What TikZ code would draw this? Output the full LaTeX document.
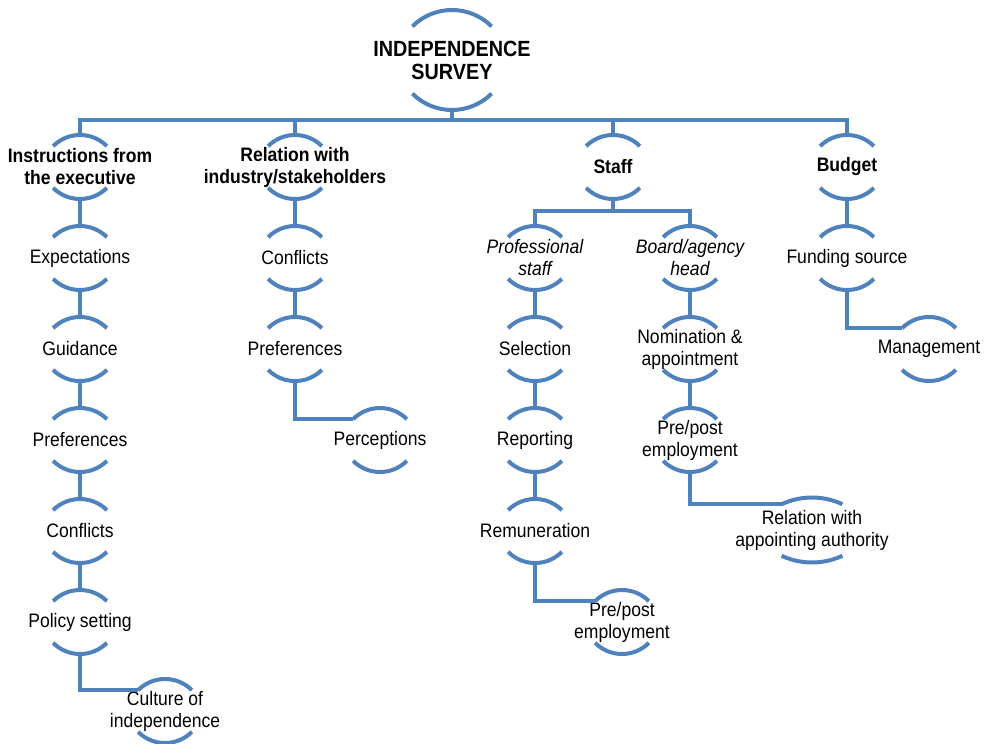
\documentclass[tikz,border=0pt]{standalone}
\usepackage{fontspec}
\setmainfont[FakeStretch=0.9]{Liberation Sans}
\usetikzlibrary{positioning}
\definecolor{arcblue}{RGB}{79,129,189}
\begin{document}
\begin{tikzpicture}[x=1pt, y=1pt, node distance=91pt, on grid,
  main/.style={align=center, inner sep=0pt, outer sep=0pt, minimum width=54pt, minimum height=64pt, font=\fontsize{19.5}{22}\selectfont},
  head/.style={main, font=\fontsize{19.5}{22}\selectfont\bfseries},
  sub/.style={main, font=\fontsize{19.5}{22}\selectfont\itshape},
  link/.style={draw=arcblue, line width=4pt}]
\useasboundingbox (0,0) rectangle (989,-744);
\node[main, minimum height=100pt, font=\fontsize{22}{23}\selectfont\bfseries] (root) at (452,-60) {INDEPENDENCE\\SURVEY};
% first level
\node[head] (instr) at (80,-167) {Instructions from\\the executive};
\node[head] (relation) at (295,-167) {Relation with\\industry/stakeholders};
\node[head] (staff) at (613,-167) {Staff};
\node[head] (budget) at (847,-167) {Budget};
% instructions
\node[main] (expect) [below=of instr] {Expectations};
\node[main] (guide) [below=of expect] {Guidance};
\node[main] (pref1) [below=of guide] {Preferences};
\node[main] (conf1) [below=of pref1] {Conflicts};
\node[main] (policy) [below=of conf1] {Policy setting};
\node[main] (culture) [below right=89pt and 85pt of policy] {Culture of\\independence};
% industry
\node[main] (conf2) [below=of relation] {Conflicts};
\node[main] (pref2) [below=of conf2] {Preferences};
\node[main] (percep) [below right=91pt and 85pt of pref2] {Perceptions};
% staff
\node[sub] (prof) [below left=91pt and 78pt of staff] {Professional\\staff};
\node[sub] (board) [below right=91pt and 77pt of staff] {Board/agency\\head};
\node[main] (select) [below=of prof] {Selection};
\node[main] (report) [below=of select] {Reporting};
\node[main] (remun) [below=of report] {Remuneration};
\node[main] (prepost1) [below right=91pt and 87pt of remun] {Pre/post\\employment};
\node[main] (nomin) [below=of board] {Nomination \&\\appointment};
\node[main] (prepost2) [below=of nomin] {Pre/post\\employment};
\node[main, minimum height=65pt] (authority) [below right=90pt and 122pt of prepost2] {Relation with\\appointing authority};
% budget
\node[main] (funding) [below=of budget] {Funding source};
\node[main] (manage) [below right=91pt and 82pt of funding] {Management};
% arcs above and below each node
\foreach \nm/\rad/\ang in {root/56/45, instr/38/45, relation/38/45, staff/38/45, budget/38/45,
    expect/38/45, guide/38/45, pref1/38/45, conf1/38/45, policy/38/45, culture/38/45,
    conf2/38/45, pref2/38/45, percep/38/45, prof/38/45, board/38/45, select/38/45,
    report/38/45, remun/38/45, prepost1/38/45, nomin/38/45, prepost2/38/45,
    authority/72/25, funding/38/45, manage/38/45} {
  \draw[link] ([yshift=-\rad pt]\nm.north) ++(90+\ang:\rad) coordinate (\nm-in)
    arc[start angle=90+\ang, end angle=90-\ang, radius=\rad];
  \draw[link] ([yshift=\rad pt]\nm.south) ++(-90-\ang:\rad)
    arc[start angle=-90-\ang, end angle=-90+\ang, radius=\rad];
}
% connectors
\draw[link] (root.south) -- ++(0,-10) -| (instr.north);
\draw[link] (root.south) -- ++(0,-10) -| (relation.north);
\draw[link] (root.south) -- ++(0,-10) -| (staff.north);
\draw[link] (root.south) -- ++(0,-10) -| (budget.north);
\draw[link] (instr.south) -- (expect.north);
\draw[link] (expect.south) -- (guide.north);
\draw[link] (guide.south) -- (pref1.north);
\draw[link] (pref1.south) -- (conf1.north);
\draw[link] (conf1.south) -- (policy.north);
\draw[link] (policy.south) |- (culture-in);
\draw[link] (relation.south) -- (conf2.north);
\draw[link] (conf2.south) -- (pref2.north);
\draw[link] (pref2.south) |- (percep-in);
\draw[link] (staff.south) -- ++(0,-12) -| (prof.north);
\draw[link] (staff.south) -- ++(0,-12) -| (board.north);
\draw[link] (prof.south) -- (select.north);
\draw[link] (select.south) -- (report.north);
\draw[link] (report.south) -- (remun.north);
\draw[link] (remun.south) |- (prepost1-in);
\draw[link] (board.south) -- (nomin.north);
\draw[link] (nomin.south) -- (prepost2.north);
\draw[link] (prepost2.south) |- (authority-in);
\draw[link] (budget.south) -- (funding.north);
\draw[link] (funding.south) |- (manage-in);
\end{tikzpicture}
\end{document}
